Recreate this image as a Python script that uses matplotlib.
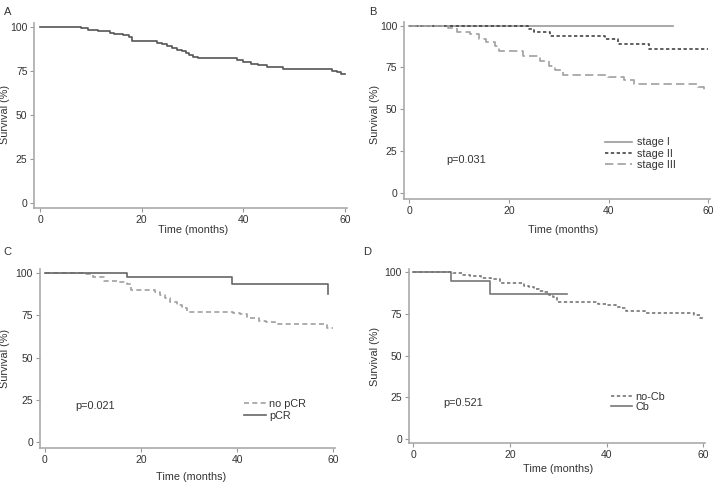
import matplotlib
matplotlib.use("Agg")
import matplotlib.pyplot as plt

plt.rcParams['font.family'] = ['Liberation Sans', 'DejaVu Sans']

W, H = 718, 484

# panel A: overall survival
a_t = [0, 8, 9.5, 11.5, 13.8, 14.5, 16.4, 17.5, 18, 23, 24, 25, 26, 27, 28, 28.7,
       29.3, 30, 31, 38.7, 40, 41.5, 42.9, 44.6, 47.8, 57.5, 58.5, 59.3, 60]
a_s = [100, 99, 98, 97.5, 96.5, 96, 95, 94, 92, 91, 90, 89, 88, 87, 86, 85,
       84, 83, 82, 81, 80, 79, 78, 77, 76, 75, 74, 73, 73]

# panel B: by stage
b1_t = [0, 53]
b1_s = [100, 100]
b2_t = [0, 23.9, 25, 28.2, 39.3, 41.9, 48.2, 60]
b2_s = [100, 98, 96, 94, 92, 89, 86, 86]
b3_t = [0, 7.8, 9.5, 12.2, 13.9, 15.4, 17.2, 18.1, 22.9, 26.2, 28, 29.3, 30.9,
        39.9, 43, 45, 58, 59.1]
b3_s = [100, 98.4, 96.4, 94.8, 92, 90, 88, 85, 82, 79, 76, 73.5, 70.5,
        69, 67.5, 65, 63, 61]
b_labels = ['stage I', 'stage II', 'stage III']

# panel C: pCR
c1_t = [0, 8, 10, 12.3, 15, 17, 18, 22.9, 24, 25, 26, 27.5, 28.5, 29.5, 39.2,
        40.5, 42, 44.5, 46, 47.8, 58.6, 59.9]
c1_s = [100, 99, 97.5, 95.3, 94.5, 93.3, 90, 88.5, 87, 85, 83, 81, 79, 77, 76,
        75.6, 73, 71.7, 71, 69.6, 67.6, 67.6]
c2_t = [0, 17.1, 39, 59]
c2_s = [100, 97.3, 93.5, 87.4]
c_labels = ['no pCR', 'pCR']

# panel D: Cb
d1_t = [0, 8.3, 10, 11.7, 14, 16, 18, 22.8, 24, 25, 26, 27, 28, 29, 29.7, 38.3,
        40, 42, 43, 44, 48, 58, 59.3, 60]
d1_s = [100, 99.4, 98.5, 97.5, 96.5, 96, 93.4, 92, 91, 90, 89, 88, 86.5, 85, 82.3,
        81, 80.3, 79, 78.3, 76.6, 75.7, 74.3, 72.3, 72.3]
d2_t = [0, 7.9, 15.9, 31.9]
d2_s = [100, 94.6, 87, 87]
d_labels = ['no-Cb', 'Cb']

p_vals = ['p=0.031', 'p=0.021', 'p=0.521']

fig = plt.figure(figsize=(W / 100, H / 100), dpi=100)


def make_axes(x0, x60, y0, y100, xlim, ylim):
    # place axes so that data 0/60 and 0/100 land on the given pixels
    sx = (x60 - x0) / 60.0
    sy = (y0 - y100) / 100.0
    left = x0 + xlim[0] * sx
    right = x0 + xlim[1] * sx
    bottom = y0 - ylim[0] * sy
    top = y0 - ylim[1] * sy
    ax = fig.add_axes([left / W, 1 - bottom / H, (right - left) / W, (bottom - top) / H])
    ax.set_xlim(*xlim)
    ax.set_ylim(*ylim)
    for s in ['top', 'right']:
        ax.spines[s].set_visible(False)
    for s in ['left', 'bottom']:
        ax.spines[s].set_color('#aaaaaa')
        ax.spines[s].set_linewidth(1.2)
    ax.set_xticks([0, 20, 40, 60])
    ax.set_yticks([0, 25, 50, 75, 100])
    ax.tick_params(length=3, width=0.8, color='#999999', labelcolor='#333333',
                   labelsize=7.5, pad=2)
    return ax


def labels(letter, lx, ly, ylx, yly, xlx, xly):
    fig.text(lx / W, 1 - ly / H, letter, fontsize=8, color='#333333', va='center')
    fig.text(ylx / W, 1 - yly / H, 'Survival (%)', rotation=90, fontsize=7.8,
             color='#333333', ha='center', va='center')
    fig.text(xlx / W, 1 - xly / H, 'Time (months)', fontsize=7.8,
             color='#333333', ha='center', va='center')


# A
axA = make_axes(40, 345, 202.7, 26.7, (-1.1, 60.4), (-3, 102))
axA.step(a_t, a_s, where='post', color='#555555', lw=1.2)
labels('A', 4, 12, 5, 114, 193, 230)

# B
axB = make_axes(409.3, 708.3, 192.7, 25.7, (-1.0, 60.4), (-4, 102))
axB.step(b1_t, b1_s, where='post', color='#999999', lw=1.2, label=b_labels[0])
axB.step(b2_t, b2_s, where='post', color='#444444', lw=1.2, ls=(0, (2, 1.5)),
         label=b_labels[1])
axB.step(b3_t, b3_s, where='post', color='#a0a0a0', lw=1.2, ls=(0, (5, 2.5)),
         label=b_labels[2])
axB.text(7.5, 19.6, p_vals[0], fontsize=7.8, color='#333333', va='center')
axB.legend(loc='upper left', bbox_to_anchor=(0.655, 0.35), frameon=False,
           fontsize=7.8, handlelength=2.5, handletextpad=0.5, labelspacing=0.1,
           borderpad=0, borderaxespad=0, labelcolor='#333333')
labels('B', 369, 12, 375, 114, 562.7, 230)

# C
axC = make_axes(45, 333.3, 442.3, 272.7, (-1.04, 60.4), (-3.2, 102))
axC.step(c1_t, c1_s, where='post', color='#a0a0a0', lw=1.2, ls=(0, (3, 2)),
         label=c_labels[0])
axC.step(c2_t, c2_s, where='post', color='#666666', lw=1.2, label=c_labels[1])
axC.text(6.2, 21.6, p_vals[1], fontsize=7.8, color='#333333', va='center')
axC.legend(loc='upper left', bbox_to_anchor=(0.691, 0.272), frameon=False,
           fontsize=7.8, handlelength=2.0, handletextpad=0.3, labelspacing=0.15,
           borderpad=0, borderaxespad=0, labelcolor='#333333')
labels('C', 3, 252, 5, 359, 190.7, 476.7)

# D
axD = make_axes(413.3, 703.3, 438.7, 272.3, (-0.9, 60.4), (-2.8, 102))
axD.step(d1_t, d1_s, where='post', color='#777777', lw=1.2, ls=(0, (2, 1.5)),
         label=d_labels[0])
axD.step(d2_t, d2_s, where='post', color='#777777', lw=1.2, label=d_labels[1])
axD.text(6.2, 21.3, p_vals[2], fontsize=7.8, color='#333333', va='center')
axD.legend(loc='upper left', bbox_to_anchor=(0.681, 0.295), frameon=False,
           fontsize=7.8, handlelength=2.0, handletextpad=0.3, labelspacing=0.0,
           borderpad=0, borderaxespad=0, labelcolor='#333333')
labels('D', 363, 252, 375, 356, 558.3, 469.3)

fig.savefig('out.png', dpi=100, facecolor='white')
